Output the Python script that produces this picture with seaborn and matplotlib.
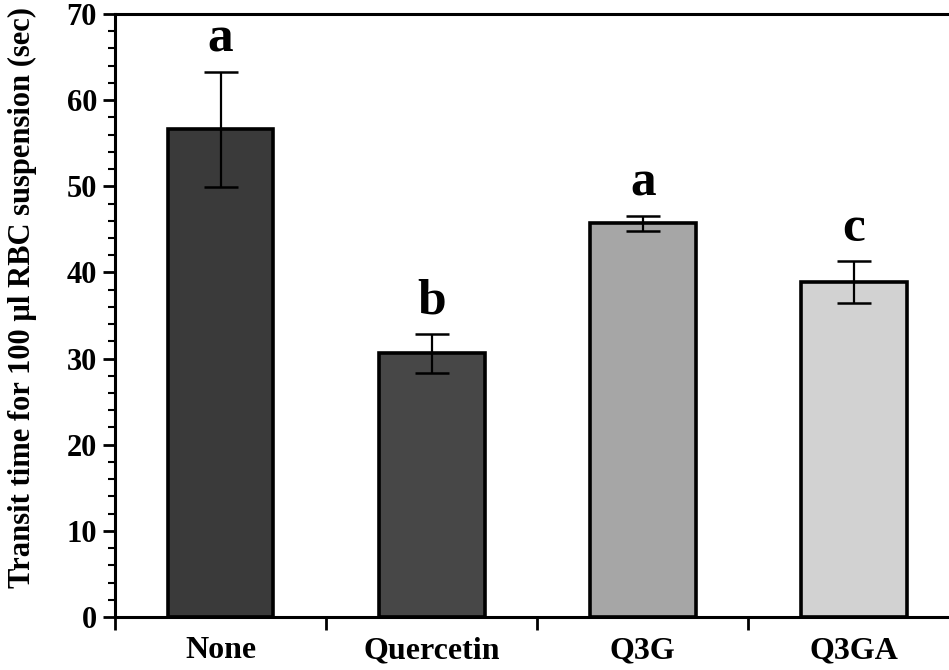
import numpy as np
import pandas as pd
import matplotlib
matplotlib.use('Agg')
import matplotlib.pyplot as plt
from matplotlib.ticker import MultipleLocator
import seaborn as sns

# values
treatments = ['None', 'Quercetin', 'Q3G', 'Q3GA']
transit_time = [56.6, 30.6, 45.7, 38.9]
sem = [6.7, 2.3, 0.9, 2.4]
letters = ['a', 'b', 'a', 'c']
bar_colors = ['#3a3a3a', '#474747', '#a6a6a6', '#d2d2d2']

sns.set_style('ticks')
plt.rcParams['font.family'] = ['Liberation Serif', 'DejaVu Serif']
plt.rcParams['font.weight'] = 'bold'
plt.rcParams['text.color'] = 'black'
plt.rcParams['axes.labelcolor'] = 'black'
plt.rcParams['xtick.color'] = 'black'
plt.rcParams['ytick.color'] = 'black'
plt.rcParams['axes.edgecolor'] = 'black'

df = pd.DataFrame({'treatment': treatments, 'time': transit_time})

fig = plt.figure(figsize=(9.49, 6.70), dpi=100)
ax = fig.add_axes([0.1212, 0.0791, 0.8788, 0.9])

sns.barplot(data=df, x='treatment', y='time', hue='treatment',
            palette=bar_colors, errorbar=None, width=0.5, legend=False,
            edgecolor='black', linewidth=2.6, ax=ax)
ax.errorbar(np.arange(len(treatments)), transit_time, yerr=sem, fmt='none',
            ecolor='black', elinewidth=1.6, capsize=12, capthick=1.8, zorder=5)

for i, (v, e, lab) in enumerate(zip(transit_time, sem, letters)):
    ax.text(i, v + e + 1.1, lab, ha='center', va='bottom', fontsize=37,
            fontweight='bold', color='black')

ax.set_xlim(-0.5, 3.45)
ax.set_ylim(0, 70)
ax.yaxis.set_major_locator(MultipleLocator(10))
ax.yaxis.set_minor_locator(MultipleLocator(2))
ax.tick_params(axis='y', which='major', direction='out', length=9, width=2,
               labelsize=22, pad=4)
ax.tick_params(axis='y', which='minor', direction='out', length=5, width=1.5)

# boundary ticks on x, labels under bar centres
ax.set_xticks([-0.5, 0.5, 1.5, 2.5])
ax.set_xticklabels([])
ax.tick_params(axis='x', which='major', direction='out', length=9, width=2)
ax.set_xticks(range(len(treatments)), minor=True)
ax.set_xticklabels(treatments, minor=True)
ax.tick_params(axis='x', which='minor', length=0, labelsize=23, pad=14)

for lab in ax.get_xticklabels(minor=True) + ax.get_yticklabels():
    lab.set_fontweight('bold')

ax.set_xlabel('')
ax.set_ylabel('Transit time for 100 \u00b5l RBC suspension (sec)',
              fontsize=22, fontweight='bold')
ax.yaxis.set_label_coords(-0.094, 0.53)

for side in ['left', 'bottom', 'top']:
    ax.spines[side].set_linewidth(2.2)
ax.spines['right'].set_visible(False)

fig.savefig('out.png', dpi=100)
